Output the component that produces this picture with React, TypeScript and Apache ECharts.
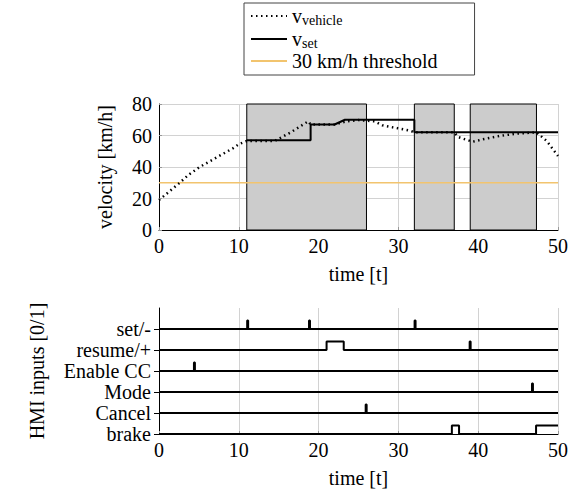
import React, { useEffect, useRef } from "react";
import * as echarts from "echarts";

// ---- data ----
const vehicleT = [0, 2.6, 3.7, 5.1, 7.2, 9.3, 10, 11, 14.5, 16.5, 18.7, 19, 22, 23.5, 25, 27, 28, 31.5, 32, 37, 37.5, 39.3, 40.6, 42.7, 44.8, 47.3, 48.6, 50];
const vehicleV = [19, 30, 35, 40, 46, 52, 54.5, 56.5, 56.5, 62, 69, 67, 67, 69, 69.8, 69, 66.5, 63, 62, 62, 59, 56, 57.6, 59.7, 61.2, 62, 56.5, 47];
const vsetT = [11, 19, 19, 22, 23.3, 32, 32, 50];
const vsetV = [57, 57, 67, 67, 70, 70, 62, 62];
const thresholdValue = 30;
const activeRegions: [number, number][] = [[11, 26], [32, 37], [39, 47.3]];

const signalNames = ["brake", "Cancel", "Mode", "Enable CC", "resume/+", "set/-"];
const brakePulses: [number, number][] = [[36.7, 37.6], [47.25, 50]];
const cancelPulses: [number, number][] = [[25.9, 26.02]];
const modePulses: [number, number][] = [[46.74, 46.86]];
const enablePulses: [number, number][] = [[4.38, 4.5]];
const resumePulses: [number, number][] = [[21.0, 23.15], [38.93, 39.05]];
const setPulses: [number, number][] = [[11.05, 11.17], [18.8, 18.92], [32.03, 32.15]];
const signalPulses = [brakePulses, cancelPulses, modePulses, enablePulses, resumePulses, setPulses];
const signalSpacing = 2.5;

const FONT = "Liberation Serif";

function pulseTrain(pulses: [number, number][], base: number): number[][] {
  const pts: number[][] = [[0, base]];
  for (const [a, b] of pulses) {
    pts.push([a, base], [a, base + 1], [b, base + 1]);
    if (b < 50) pts.push([b, base]);
  }
  const last = pulses[pulses.length - 1];
  if (last[1] < 50) pts.push([50, base]);
  return pts;
}

export default function App() {
  const ref = useRef<HTMLDivElement>(null);
  useEffect(() => {
    if (!ref.current) return;
    const chart = echarts.init(ref.current, null, { renderer: "svg" });
    const textBase = { fontFamily: FONT, fontSize: 20, color: "#000" };
    const xAxisBase = (gi: number) => ({
      gridIndex: gi,
      type: "value",
      min: 0,
      max: 50,
      interval: 10,
      name: "time [t]",
      nameLocation: "middle",
      nameGap: 34,
      nameTextStyle: { ...textBase },
      axisLine: { show: true, onZero: false, lineStyle: { color: "#000", width: 1 } },
      axisTick: { show: true, inside: true, length: 3, lineStyle: { color: "#999" } },
      axisLabel: { ...textBase, margin: 6 },
      splitLine: { show: true, lineStyle: { color: "#d2d2d2", width: 1 } },
    });
    const signalSeries = signalNames.map((name, i) => ({
      name,
      type: "line",
      xAxisIndex: 1,
      yAxisIndex: 1,
      symbol: "none",
      data: pulseTrain(signalPulses[i], i * signalSpacing),
      lineStyle: { color: "#000", width: 2 },
      itemStyle: { color: "#000" },
      z: 3,
    }));
    const labelValues = signalNames.map((_, i) => i * signalSpacing);
    const option: any = {
      animation: false,
      textStyle: { fontFamily: FONT },
      grid: [
        { left: 159, top: 104, width: 399, height: 126 },
        { left: 159, top: 308, width: 399, height: 126 },
      ],
      legend: {
        data: ["v_vehicle", "v_set", "30 km/h threshold"],
        orient: "vertical",
        left: 244,
        top: 3,
        padding: [2, 37, 4, 6],
        itemGap: 1,
        itemWidth: 36,
        itemHeight: 14,
        borderColor: "#444",
        borderWidth: 1,
        selectedMode: false,
        itemStyle: { opacity: 0 },
        formatter: (name: string) =>
          name.startsWith("v_") ? `{v|v}{s|${name.slice(2)}}` : `{t|${name}}`,
        textStyle: {
          fontFamily: FONT,
          color: "#000",
          rich: {
            v: { fontFamily: FONT, fontSize: 20, lineHeight: 22, color: "#000" },
            s: { fontFamily: FONT, fontSize: 14, lineHeight: 14, padding: [8, 0, 0, 0], color: "#000" },
            t: { fontFamily: FONT, fontSize: 20, lineHeight: 22, color: "#000" },
          },
        },
      },
      xAxis: [xAxisBase(0), xAxisBase(1)],
      yAxis: [
        {
          gridIndex: 0,
          type: "value",
          min: 0,
          max: 80,
          interval: 20,
          name: "velocity [km/h]",
          nameLocation: "middle",
          nameGap: 44,
          nameRotate: 90,
          nameTextStyle: { ...textBase },
          axisLine: { show: true, lineStyle: { color: "#000", width: 1 } },
          axisTick: { show: true, inside: true, length: 3, lineStyle: { color: "#999" } },
          axisLabel: { ...textBase, margin: 7 },
          splitLine: { show: true, lineStyle: { color: "#d2d2d2", width: 1 } },
        },
        {
          gridIndex: 1,
          type: "value",
          min: 0,
          max: 15,
          interval: 2.5,
          name: "HMI inputs [0/1]",
          nameLocation: "middle",
          nameGap: 112,
          nameRotate: 90,
          nameTextStyle: { ...textBase },
          axisLine: { show: true, lineStyle: { color: "#000", width: 1 } },
          axisTick: { show: true, length: 5, customValues: labelValues, lineStyle: { color: "#000" } },
          axisLabel: {
            ...textBase,
            margin: 8,
            customValues: labelValues,
            formatter: (v: number) => {
              const idx = Math.round(v / signalSpacing);
              return Math.abs(idx * signalSpacing - v) < 1e-6 && idx < signalNames.length ? signalNames[idx] : "";
            },
          },
          splitLine: { show: false },
        },
      ],
      series: [
        {
          name: "v_vehicle",
          type: "line",
          xAxisIndex: 0,
          yAxisIndex: 0,
          symbol: "none",
          data: vehicleT.map((t, i) => [t, vehicleV[i]]),
          lineStyle: { color: "#000", width: 2.5, type: [1.5, 3.5], cap: "butt" },
          itemStyle: { color: "#000" },
          z: 4,
        },
        {
          name: "v_set",
          type: "line",
          xAxisIndex: 0,
          yAxisIndex: 0,
          symbol: "none",
          data: vsetT.map((t, i) => [t, vsetV[i]]),
          lineStyle: { color: "#000", width: 2 },
          itemStyle: { color: "#000" },
          z: 3,
          markArea: {
            silent: true,
            z: 1,
            itemStyle: { color: "#cccccc", borderColor: "#000", borderWidth: 1, opacity: 1 },
            label: { show: false },
            data: activeRegions.map(([a, b]) => [{ xAxis: a }, { xAxis: b }]),
          },
        },
        {
          name: "30 km/h threshold",
          type: "line",
          xAxisIndex: 0,
          yAxisIndex: 0,
          symbol: "none",
          data: [[0, thresholdValue], [50, thresholdValue]],
          lineStyle: { color: "#f2c46e", width: 1.5 },
          itemStyle: { color: "#f2c46e" },
          z: 2,
        },
        ...signalSeries,
      ],
    };
    chart.setOption(option);
    return () => chart.dispose();
  }, []);
  return (
    <div
      ref={ref}
      style={{ position: "fixed", left: 0, top: 0, width: 574, height: 492, background: "#fff" }}
    />
  );
}
